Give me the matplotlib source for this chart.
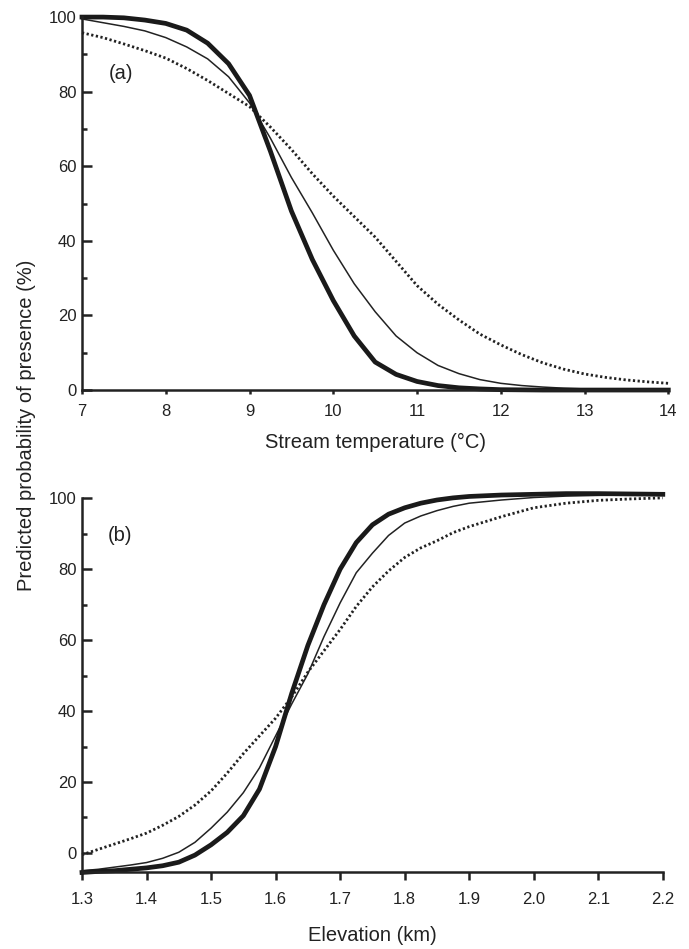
import numpy as np
import matplotlib
matplotlib.use("Agg")
from matplotlib import pyplot as plt
from matplotlib.ticker import MultipleLocator, FormatStrFormatter

plt.rcParams['font.family'] = ['Liberation Sans', 'DejaVu Sans']

# Panel (a): stream temperature
temperature = [7.0, 7.25, 7.5, 7.75, 8.0, 8.25, 8.5, 8.75, 9.0, 9.25, 9.5, 9.75,
               10.0, 10.25, 10.5, 10.75, 11.0, 11.25, 11.5, 11.75, 12.0, 12.25,
               12.5, 12.75, 13.0, 13.25, 13.5, 13.75, 14.0]
temp_thick = [100, 100, 99.8, 99.2, 98.3, 96.5, 93, 87.5, 79, 64, 48, 35,
              24, 14.5, 7.5, 4.2, 2.3, 1.2, 0.6, 0.3, 0.1, 0.05,
              0, 0, 0, 0, 0, 0, 0]
temp_thin = [99.5, 98.5, 97.5, 96.3, 94.5, 92, 88.8, 84, 77, 67.5, 57, 47.5,
             37.5, 28.5, 21, 14.5, 10, 6.6, 4.4, 2.8, 1.8, 1.2,
             0.8, 0.5, 0.3, 0.2, 0.1, 0.05, 0]
temp_dotted = [95.8, 94.5, 92.8, 91, 89, 86.2, 83, 79.5, 76, 70.5, 64.5, 58,
               52, 46.5, 41, 34.5, 28, 23, 18.8, 15, 12.1, 9.5,
               7.3, 5.6, 4.3, 3.4, 2.7, 2.2, 1.8]

# Panel (b): elevation (km)
elevation = [1.3, 1.325, 1.35, 1.375, 1.4, 1.425, 1.45, 1.475, 1.5, 1.525, 1.55,
             1.575, 1.6, 1.625, 1.65, 1.675, 1.7, 1.725, 1.75, 1.775, 1.8,
             1.825, 1.85, 1.875, 1.9, 1.95, 2.0, 2.05, 2.1, 2.15, 2.2]
elev_thick = [-5.5, -5.2, -5.0, -4.6, -4.2, -3.6, -2.6, -0.6, 2.3, 5.8, 10.5,
              18, 30, 45, 58.5, 70, 80, 87.5, 92.5, 95.5, 97.3,
              98.6, 99.5, 100.1, 100.5, 100.9, 101.1, 101.3, 101.3, 101.2, 101.1]
elev_thin = [-5.0, -4.6, -4.0, -3.4, -2.7, -1.5, 0.2, 3, 7, 11.5, 17,
             24, 33, 42, 50.5, 61, 70.5, 79, 84.5, 89.5, 93,
             95, 96.5, 97.7, 98.6, 99.5, 100.2, 100.6, 100.8, 100.9, 101.0]
elev_dotted = [-0.5, 1.0, 2.5, 4.0, 5.6, 7.8, 10.3, 13.5, 17.5, 22.5, 28,
               33, 38, 44, 51, 57, 63, 69.5, 75, 79.5, 83.3,
               86, 88, 90.3, 92, 94.8, 97.3, 98.6, 99.4, 99.8, 100.1]

fig = plt.figure(figsize=(6.89, 9.49), dpi=100)
ax1 = fig.add_axes([0.119, 0.589, 0.851, 0.393])
ax2 = fig.add_axes([0.119, 0.081, 0.843, 0.394])

ink = '#222222'
dots = (0, (0.8, 0.9))

def style(ax, xtick_len, xpad):
    for s in ['top', 'right']:
        ax.spines[s].set_visible(False)
    for s in ['left', 'bottom']:
        ax.spines[s].set_linewidth(1.8)
        ax.spines[s].set_color(ink)
    ax.yaxis.set_major_locator(MultipleLocator(20))
    ax.yaxis.set_minor_locator(MultipleLocator(10))
    ax.tick_params(axis='y', which='major', direction='in', length=7, width=1.8,
                   labelsize=12, colors=ink, pad=4)
    ax.tick_params(axis='y', which='minor', direction='in', length=3.5, width=1.8, colors=ink)
    ax.tick_params(axis='x', which='major', direction='out', length=xtick_len, width=1.8,
                   labelsize=12, colors=ink, pad=xpad)
    ax.tick_params(axis='x', which='minor', length=0)

# (a)
ax1.plot(temperature, temp_dotted, color=ink, lw=2.0, ls=dots, clip_on=False)
ax1.plot(temperature, temp_thin, color=ink, lw=1.1, clip_on=False)
ax1.plot(temperature, temp_thick, color='#1a1a1a', lw=3.4, clip_on=False)
ax1.set_xlim(7, 14)
ax1.set_ylim(0, 100)
style(ax1, 3, 7)
ax1.xaxis.set_major_locator(MultipleLocator(1))
ax1.set_xlabel('Stream temperature (°C)', fontsize=14.5, color=ink, labelpad=10)
ax1.text(0.045, 0.835, '(a)', transform=ax1.transAxes, fontsize=14.5, color=ink)

# (b)
ax2.plot(elevation, elev_dotted, color=ink, lw=2.0, ls=dots, clip_on=False)
ax2.plot(elevation, elev_thin, color=ink, lw=1.1, clip_on=False)
ax2.plot(elevation, elev_thick, color='#1a1a1a', lw=3.4, clip_on=False)
ax2.set_xlim(1.3, 2.2)
ax2.set_ylim(-5.4, 100)
style(ax2, 6, 8)
ax2.xaxis.set_major_locator(MultipleLocator(0.1))
ax2.xaxis.set_major_formatter(FormatStrFormatter('%.1f'))
ax2.set_xlabel('Elevation (km)', fontsize=14.5, color=ink, labelpad=14)
ax2.text(0.045, 0.885, '(b)', transform=ax2.transAxes, fontsize=14.5, color=ink)

fig.text(0.038, 0.552, 'Predicted probability of presence (%)', rotation=90,
         ha='center', va='center', fontsize=14.5, color=ink)

plt.savefig('out.png', dpi=100)
